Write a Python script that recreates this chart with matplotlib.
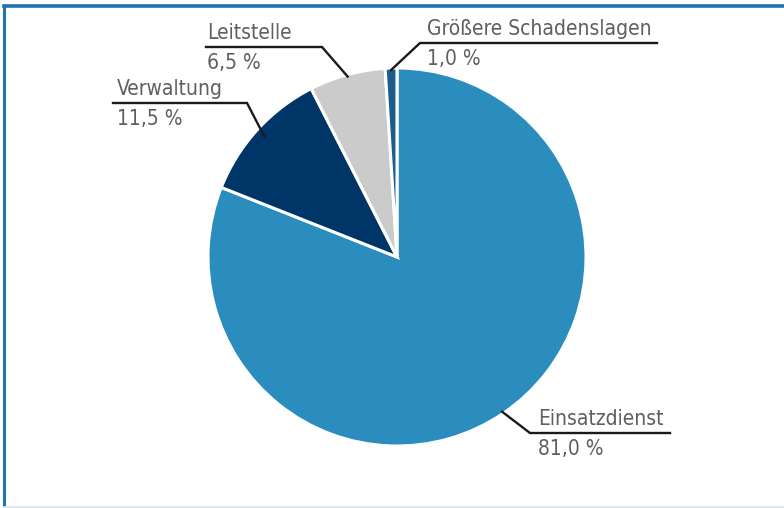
import numpy as np
import matplotlib
matplotlib.use('Agg')
import matplotlib.pyplot as plt
from matplotlib.lines import Line2D

# Data.
labels = ['Einsatzdienst', 'Verwaltung', 'Leitstelle', 'Größere Schadenslagen']
shares = [81.0, 11.5, 6.5, 1.0]
pct_labels = ['81,0 %', '11,5 %', '6,5 %', '1,0 %']
colors = ['#2b8cbe', '#003568', '#cbcbcb', '#1b5e8c']

W, H = 784, 508
CX, CY, R = 397, 257, 189   # pie centre and radius in pixels

fig = plt.figure(figsize=(W / 100, H / 100), dpi=100)
ax = fig.add_axes([0, 0, 1, 1])


def px(x, y):
    # Convert pixel position (from top-left) to data coordinates.
    return (x - CX) / R, (CY - y) / R


wedges, _ = ax.pie(shares, colors=colors, startangle=90, counterclock=False,
                   radius=1, center=(0, 0), frame=True,
                   wedgeprops=dict(edgecolor='white', linewidth=2.2))
ax.set_xlim(-CX / R, (W - CX) / R)
ax.set_ylim(-(H - CY) / R, CY / R)
ax.set_aspect('equal')
ax.axis('off')

# Label layout: elbow point, end of horizontal line, radius where leader starts.
layout = {
    'Einsatzdienst': dict(elbow=(530, 433), end=(670, 433), r=0.99, dx=8),
    'Verwaltung': dict(elbow=(247, 103), end=(113, 103), r=0.95, dx=4),
    'Leitstelle': dict(elbow=(322, 47), end=(206, 47), r=0.99, dx=1),
    'Größere Schadenslagen': dict(elbow=(420, 43), end=(657, 43), r=0.99, dx=7),
}

font = ['DejaVu Sans']
text_color = '#5f5f5f'

for w, lab, pct in zip(wedges, labels, pct_labels):
    ang = np.deg2rad((w.theta1 + w.theta2) / 2)
    L = layout[lab]
    sx, sy = L['r'] * np.cos(ang), L['r'] * np.sin(ang)
    ex, ey = px(*L['elbow'])
    hx, hy = px(*L['end'])
    ax.plot([sx, ex, hx], [sy, ey, hy], color='#1a1a1a', lw=1.7,
            solid_joinstyle='miter')
    tx = min(ex, hx) + L['dx'] / R
    ax.text(tx, ey + 4 / R, lab, ha='left', va='bottom', fontsize=15,
            family=font, stretch='condensed', color=text_color)
    ax.text(tx, ey - 6 / R, pct, ha='left', va='top', fontsize=15,
            family=font, stretch='condensed', color=text_color)

# Frame around the chart (cut off on the right).
fig.add_artist(Line2D([4 / W, 1], [1 - 5.5 / H, 1 - 5.5 / H], color='#1f74ad',
                      lw=2.6, transform=fig.transFigure))
fig.add_artist(Line2D([4 / W, 4 / W], [1 - 5.5 / H, 1.5 / H], color='#1f74ad',
                      lw=2.2, transform=fig.transFigure))
fig.add_artist(Line2D([4 / W, 1], [1.5 / H, 1.5 / H], color='#dde8ec',
                      lw=2, transform=fig.transFigure))

fig.savefig('out.png', dpi=100)
